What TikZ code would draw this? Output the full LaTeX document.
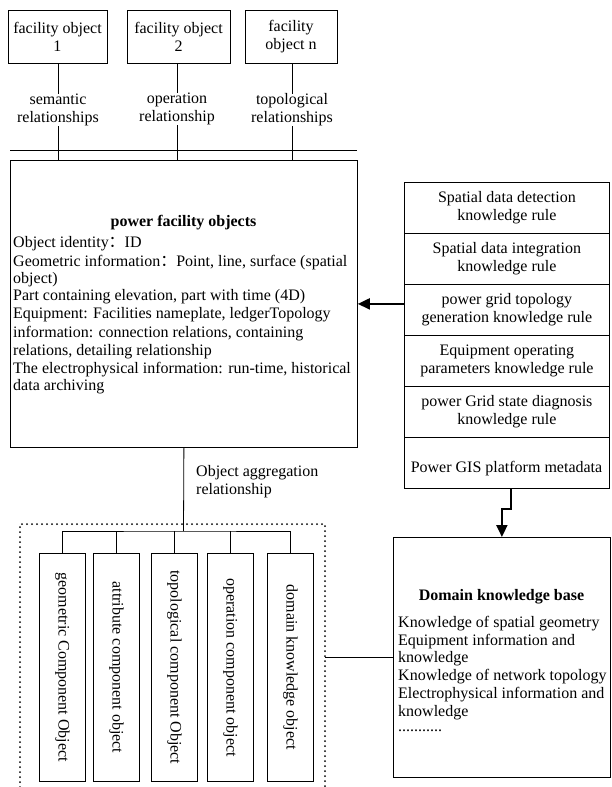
\documentclass[tikz,border=0pt]{standalone}
\usepackage{fontspec}
\setmainfont{Liberation Serif}
\newfontfamily\cjk{Noto Sans CJK SC}
\usetikzlibrary{arrows.meta}
\begin{document}
\begin{tikzpicture}[x=1pt,y=-1pt,
  every node/.style={font=\fontsize{16}{18}\selectfont, inner sep=0pt},
  ln/.style={line width=0.8pt},
  box/.style={draw, ln, align=center},
  txt/.style={anchor=base west},
  bold/.style={font=\fontsize{16}{18}\selectfont\bfseries},
  bigarrow/.style={line width=2pt, -{Triangle[length=12pt,width=11pt]}},
  comp/.style={draw, ln, minimum width=46pt, minimum height=228pt, anchor=north west},
  row/.style={box, minimum width=205pt, minimum height=51pt, anchor=north west},
  dotsty/.style={line width=2pt, line cap=round, dash pattern=on 0pt off 5pt}
]
\useasboundingbox (0,0) rectangle (611,787);

% top facility objects
\node[box, minimum width=99pt, minimum height=53pt] (f1) at (57.5,36.5) {facility object\\1};
\node[box, minimum width=103pt, minimum height=53pt] (f2) at (178.5,36.5) {facility object\\2};
\node[box, minimum width=92pt, minimum height=53pt] (f3) at (291,36.5) {facility\\object n};

\node[align=center] (s1) at (58,110) {semantic\\relationships};
\node[align=center] (s2) at (177,109) {operation\\relationship};
\node[align=center] (s3) at (292,110) {topological\\relationships};

% main box
\node[draw, ln, minimum width=347pt, minimum height=287pt, anchor=north west] (main) at (10,160) {};
\coordinate (busL) at (10,150);
\coordinate (busR) at (357,150);

\draw[ln] (f1.south -| s1) -- (s1.north);
\draw[ln] (f2.south -| s2) -- (s2.north);
\draw[ln] (f3.south -| s3) -- (s3.north);
\draw[ln] (s1.south) -- (s1.south |- main.north);
\draw[ln] (s2.south) -- (s2.south |- main.north);
\draw[ln] (s3.south) -- (s3.south |- main.north);
\draw[ln] (busL) -- (busR);

\node[bold] (mt) at (183.5,223) {power facility objects};
\node[txt] (m1) at (13,247) {Object identity{\cjk ：}ID};
\node[txt] (m2) at (13,266) {Geometric information{\cjk ：}Point, line, surface (spatial};
\node[txt] (m3) at (13,283) {object)};
\node[txt] (m4) at (13,300) {Part containing elevation, part with time (4D)};
\node[txt] (m5) at (13,318) {Equipment: Facilities nameplate, ledgerTopology};
\node[txt] (m6) at (13,337) {information: connection relations, containing};
\node[txt] (m7) at (13,355) {relations, detailing relationship};
\node[txt] (m8) at (13,373) {The electrophysical information: run-time, historical};
\node[txt] (m9) at (13,390) {data archiving};

% right column of knowledge rules
\node[row] (r1) at (404,182) {Spatial data detection\\knowledge rule};
\node[row] (r2) at (404,233) {Spatial data integration\\knowledge rule};
\node[row] (r3) at (404,284) {power grid topology\\generation knowledge rule};
\node[row] (r4) at (404,335) {Equipment operating\\parameters knowledge rule};
\node[row] (r5) at (404,386) {power Grid state diagnosis\\knowledge rule};
\node[row] (r6) at (404,437) {};
\node (r6t) at (506.5,469) {Power GIS platform metadata};

\draw[bigarrow] (r3.west |- main.east) -- (main.east);

% domain knowledge base
\node[draw, ln, minimum width=217pt, minimum height=240pt, anchor=north west] (dom) at (393,537) {};
\node[bold] (dt) at (501.5,597) {Domain knowledge base};
\node[txt] (d1) at (398,627) {Knowledge of spatial geometry};
\node[txt] (d2) at (398,645) {Equipment information and};
\node[txt] (d3) at (398,662) {knowledge};
\node[txt] (d4) at (398,680) {Knowledge of network topology};
\node[txt] (d5) at (398,698) {Electrophysical information and};
\node[txt] (d6) at (398,716) {knowledge};
\node[txt] (d7) at (398,731) {...........};

\draw[bigarrow] ([xshift=4.5pt]r6.south) -- ++(0,20) -| (dom.north);

% aggregation
\node[align=left, anchor=west] (agl) at (196,482) {Object aggregation\\relationship};
\coordinate (bus) at (183.5,531);

\node[comp] (c1) at (39,553) {};
\node[comp] (c2) at (93,553) {};
\node[comp] (c3) at (151,553) {};
\node[comp] (c4) at (207,553) {};
\node[comp] (c5) at (267,553) {};
\node[rotate=-90] (c1t) at (c1.center) {geometric Component Object};
\node[rotate=-90] (c2t) at (c2.center) {attribute component object};
\node[rotate=-90] (c3t) at (c3.center) {topological component Object};
\node[rotate=-90] (c4t) at (c4.center) {operation component object};
\node[rotate=-90] (c5t) at (c5.center) {domain knowledge object};

\draw[ln] (main.south) -- (bus);
\draw[ln] (c1.north) |- (bus) -| (c5.north);
\draw[ln] (c2.north) -- (c2.north |- bus);
\draw[ln] (c3.north) -- (c3.north |- bus);
\draw[ln] (c4.north) -- (c4.north |- bus);

% dotted frame
\coordinate (dTL) at (20,524);
\coordinate (dTR) at (325,524);
\coordinate (dBL) at (20,787);
\coordinate (dBR) at (325,787);
\draw[dotsty] (dBL) -- (dTL) -- (dTR) -- (dBR);

\draw[ln] (dom.west) -- (dom.west -| dTR);
\end{tikzpicture}
\end{document}
